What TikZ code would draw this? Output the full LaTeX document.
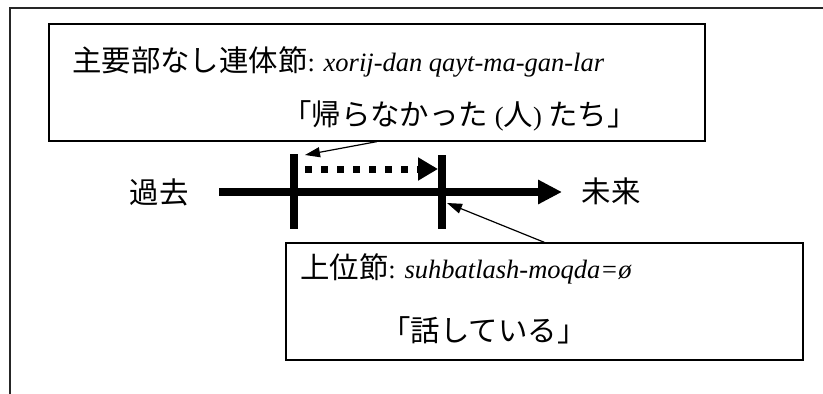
\documentclass[tikz,border=0pt]{standalone}
\usepackage{fontspec}
\setmainfont{Liberation Serif}
\newfontfamily\jp[Scale=1.11]{Noto Sans CJK JP}
\usetikzlibrary{arrows.meta}
\tikzset{
  clausebox/.style={draw, line width=1.2pt, minimum width=#1, minimum height=117pt, inner sep=0pt},
  glosstext/.style={font=\fontsize{26.5}{32}\selectfont, inner sep=0pt},
  pointer/.style={line width=1.2pt, -{Triangle[length=15pt,width=10pt]}},
  tickbar/.style={line width=7.5pt}
}

\begin{document}
\begin{tikzpicture}[x=1pt,y=-1pt]
                \useasboundingbox (0,0) rectangle (823,394);
                \draw[line width=2pt, black!85] (9,8) -- (823,8) (10,8) -- (10,394);
                \node[clausebox=656pt] (relbox) at (377,82.5) {};
                \node[clausebox=517pt] (mainbox) at (544.5,301.5) {};
                \node[glosstext, anchor=base west] (relline) at (72,71)
                    {{\jp 主要部なし連体節}: \textit{xorij-dan qayt-ma-gan-lar}};
                \node[glosstext, anchor=base east] (relgloss) at (637,125)
                    {{\jp 「帰らなかった} ({\jp 人}) {\jp たち」}};
                \node[glosstext, anchor=base west] (mainline) at (300,278)
                    {{\jp 上位節}: \textit{suhbatlash-moqda=ø}};
                \node[glosstext, anchor=base] (maingloss) at (484,341) {\jp 「話している」};
                \node[glosstext] (past) at (159,192) {\jp 過去};
                \node[glosstext] (future) at (611,191) {\jp 未来};
                \coordinate (linestart) at (219,192);
                \coordinate (lineend) at (562,192);
                \coordinate (spanstart) at (305,169);
                \coordinate (spanend) at (438,169);
                \coordinate (leftmark) at (305,155);
                \coordinate (rightmark) at (447,203);
                \draw[line width=8pt, -{Triangle[length=24pt,width=23pt]}] (linestart) -- (lineend);
                \foreach \x/\y in {294/154, 442/155}
                    \draw[tickbar] (\x,\y) -- (\x,229);
                \draw[line width=7pt, dash pattern=on 7pt off 9pt, -{Triangle[length=20pt,width=22pt]}] (spanstart) -- (spanend);
                \draw[pointer] (relbox.south) -- (leftmark);
                \draw[pointer] (mainbox.north) -- (rightmark);
            \end{tikzpicture}
\end{document}
